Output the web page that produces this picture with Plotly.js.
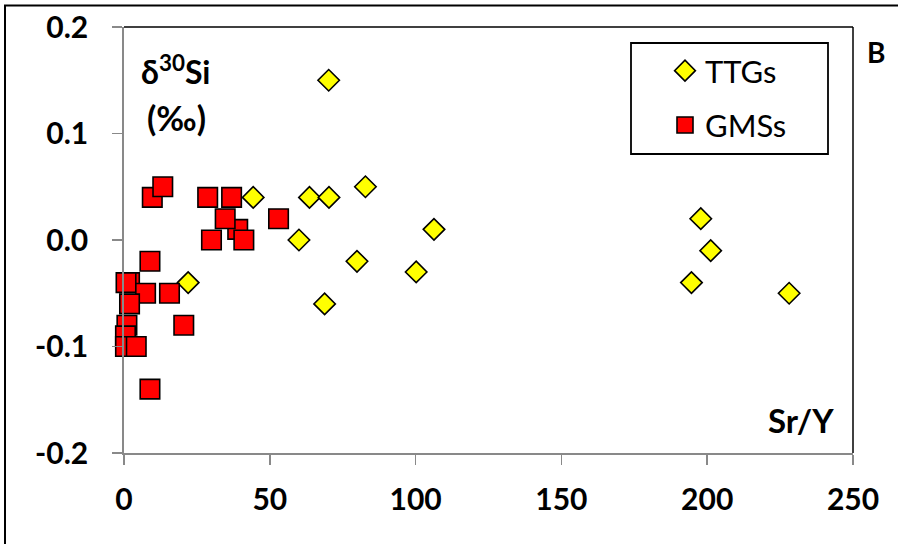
<!DOCTYPE html>
<html>
<head>
<meta charset="utf-8">
<script src="https://cdn.plot.ly/plotly-3.0.1.min.js"></script>
<style>html,body{margin:0;padding:0;background:#fff;}#chart{width:898px;height:544px;}</style>
</head>
<body>
<div id="chart"></div>
<script>
// TTGs
const ttgSrY   = [70.2, 82.8, 63.6, 70.3, 44.3, 60.0, 106.3, 79.9, 100.2, 68.8, 22.0, 197.8, 201.2, 194.6, 228.1];
const ttgD30Si = [0.15, 0.05, 0.04, 0.04, 0.04, 0.00, 0.01, -0.02, -0.03, -0.06, -0.04, 0.02, -0.01, -0.04, -0.05];
// GMSs
const gmsSrY   = [9.7, 13.3, 28.7, 36.9, 39.0, 34.7, 30.0, 41.1, 53.0, 8.9, 1.9, 0.7, 7.4, 15.6, 1.0, 0.5, 0.5, 4.2, 1.9, 20.5, 8.9];
const gmsD30Si = [0.04, 0.05, 0.04, 0.04, 0.01, 0.02, 0.00, 0.00, 0.02, -0.02, -0.04, -0.04, -0.05, -0.05, -0.08, -0.09, -0.10, -0.10, -0.06, -0.08, -0.14];
const xTicks = [0, 50, 100, 150, 200, 250];
const yTicks = [-0.2, -0.1, 0.0, 0.1, 0.2];
const yTickText = ["-0.2", "-0.1", "0.0", "0.1", "0.2"];

const axisGray = '#898989';
const traces = [
  {x: ttgSrY, y: ttgD30Si, name: 'TTGs', type: 'scatter', mode: 'markers', legendgroup: 'a', cliponaxis: false,
   marker: {symbol: 'diamond', size: 16.5, color: '#FFFF00', line: {color: '#000', width: 1.6}}},
  {x: gmsSrY, y: gmsD30Si, name: 'GMSs', type: 'scatter', mode: 'markers', legendgroup: 'b', cliponaxis: false,
   marker: {symbol: 'square', size: 19.5, color: '#FF0000', line: {color: '#000', width: 1.6}}}
];
const L = 124, R = 853, T = 27, B = 453, W = 898, H = 544;
const px = v => (v - L) / (R - L);
const py = v => (B - v) / (B - T);
const layout = {
  width: W, height: H,
  margin: {l: L, r: W - R, t: T, b: H - B, pad: 0},
  paper_bgcolor: '#fff', plot_bgcolor: '#fff',
  showlegend: true,
  legend: {x: px(665), y: py(44), xanchor: 'left', yanchor: 'top', bgcolor: 'rgba(0,0,0,0)', borderwidth: 0,
           font: {family: 'Lato', size: 31, color: '#000'}, tracegroupgap: 11, traceorder: 'grouped'},
  xaxis: {range: [0, 250], tickvals: xTicks, ticktext: xTicks.map(String), ticks: 'outside', ticklen: 10, tickwidth: 1.5,
          tickcolor: axisGray, showline: true, linecolor: axisGray, linewidth: 1.8, showgrid: false, zeroline: false,
          tickfont: {family: 'Lato', size: 30, weight: 'bold', color: '#000'}, ticklabelstandoff: 9, fixedrange: true},
  yaxis: {range: [-0.2, 0.2], tickvals: yTicks, ticktext: yTickText, ticks: 'outside', ticklen: 10, tickwidth: 1.5,
          tickcolor: axisGray, showline: true, linecolor: axisGray, linewidth: 1.8, showgrid: false, zeroline: false,
          tickfont: {family: 'Lato', size: 30, weight: 'bold', color: '#000'}, ticklabelstandoff: 18, fixedrange: true},
  shapes: [
    // outer frame
    {type: 'rect', xref: 'paper', yref: 'paper', x0: px(5), x1: px(1000), y0: py(700), y1: py(5.5), line: {color: '#000', width: 2}},
    // plot area top and right borders
    {type: 'line', xref: 'paper', yref: 'paper', x0: 0, x1: 1, y0: 1, y1: 1, line: {color: '#000', width: 1.5}},
    {type: 'line', xref: 'paper', yref: 'paper', x0: 1, x1: 1, y0: 0, y1: 1, line: {color: '#000', width: 1.5}},
    // legend box
    {type: 'rect', xref: 'paper', yref: 'paper', x0: px(631), x1: px(828), y0: py(154), y1: py(43), line: {color: '#000', width: 1.8}, layer: 'below'}
  ],
  annotations: [
    {xref: 'paper', yref: 'paper', x: px(176), y: py(70), xanchor: 'center', yanchor: 'middle', showarrow: false,
     text: 'δ<sup>30</sup>Si', font: {family: 'Lato', size: 32, weight: 'bold', color: '#000'}},
    {xref: 'paper', yref: 'paper', x: px(176), y: py(117), xanchor: 'center', yanchor: 'middle', showarrow: false,
     text: '(‰)', font: {family: 'Lato', size: 34, weight: 'bold', color: '#000'}},
    {xref: 'paper', yref: 'paper', x: px(836), y: py(420), xanchor: 'right', yanchor: 'middle', showarrow: false,
     text: 'Sr/Y', font: {family: 'Lato', size: 33, weight: 'bold', color: '#000'}},
    {xref: 'paper', yref: 'paper', x: px(876), y: py(52), xanchor: 'center', yanchor: 'middle', showarrow: false,
     text: 'B', font: {family: 'Lato', size: 28, weight: 'bold', color: '#000'}}
  ]
};
Plotly.newPlot('chart', traces, layout, {displayModeBar: false, staticPlot: true});
</script>
</body>
</html>
